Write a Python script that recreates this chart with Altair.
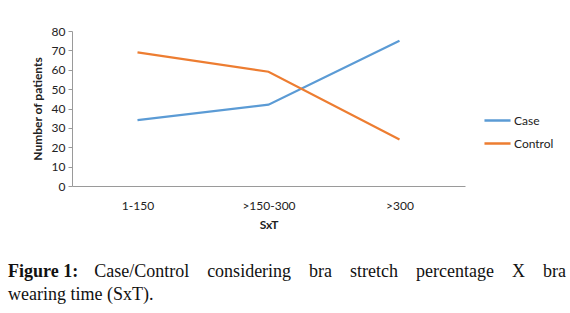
import altair as alt
import pandas as pd

categories = ["1-150", ">150-300", ">300"]
case_values = [34, 42, 75]
control_values = [69, 59, 24]
series_names = ["Case", "Control"]
series_colors = ["#5B9BD5", "#ED7D31"]
caption_line1 = "Figure 1:"
caption_words = ["Case/Control", "considering", "bra", "stretch", "percentage", "X", "bra"]
caption_line2 = "wearing time (SxT)."

rows = []
for c, v in zip(categories, case_values):
    rows.append({"SxT": c, "value": v, "series": "Case"})
for c, v in zip(categories, control_values):
    rows.append({"SxT": c, "value": v, "series": "Control"})
df = pd.DataFrame(rows)

FONT = "Lato"
FS = 12

lines = alt.Chart(df).mark_line(strokeWidth=2.2).encode(
    x=alt.X("SxT:N", sort=categories, scale=alt.Scale(padding=0.5),
            axis=alt.Axis(title="SxT", labelAngle=0, ticks=False, labelPadding=14,
                          titlePadding=8, domainColor="#9a9a9a", labelColor="#222",
                          labelFont=FONT, labelFontSize=FS, titleFont=FONT,
                          titleFontSize=FS, titleFontWeight="bold", titleColor="#222")),
    y=alt.Y("value:Q", scale=alt.Scale(domain=[0, 80]),
            axis=alt.Axis(title="Number of patients", values=list(range(0, 81, 10)),
                          grid=False, tickSize=4, tickColor="#9a9a9a", domainColor="#9a9a9a",
                          labelColor="#222", labelFont=FONT, labelFontSize=FS, labelPadding=3,
                          titleFont=FONT, titleFontSize=FS, titleFontWeight="bold",
                          titleColor="#222", titlePadding=7)),
    color=alt.Color("series:N", scale=alt.Scale(domain=series_names, range=series_colors),
                    legend=alt.Legend(title=None, orient="none", legendX=411, legendY=75,
                                      symbolType="stroke", symbolStrokeWidth=2.5,
                                      symbolSize=680, labelFont=FONT, labelFontSize=FS,
                                      labelColor="#222", rowPadding=2, labelOffset=2)),
)

sep = " \u00a0\u00a0\u00a0"
caption_line1_rest = sep.join(caption_words)

cap_base = alt.Chart(pd.DataFrame({"a": [0]}))
cap1 = cap_base.mark_text(align="left", baseline="alphabetic", font="Liberation Serif",
                          fontSize=18, fontWeight="bold", color="#111").encode(
    x=alt.value(-64), y=alt.value(246), text=alt.value(caption_line1))
cap1b = cap_base.mark_text(align="right", baseline="alphabetic", font="Liberation Serif",
                           fontSize=18, color="#111").encode(
    x=alt.value(494), y=alt.value(246), text=alt.value(caption_line1_rest))
cap2 = cap_base.mark_text(align="left", baseline="alphabetic", font="Liberation Serif",
                          fontSize=18, color="#111").encode(
    x=alt.value(-64), y=alt.value(269), text=alt.value(caption_line2))

chart = alt.layer(lines, cap1, cap1b, cap2).properties(
    width=393, height=155,
    autosize=alt.AutoSizeParams(type="none"),
    padding={"left": 72, "top": 31, "right": 105, "bottom": 127},
).configure(background="white").configure_view(stroke=None)

chart.save("out.html", embed_options={"renderer": "svg", "actions": False})
